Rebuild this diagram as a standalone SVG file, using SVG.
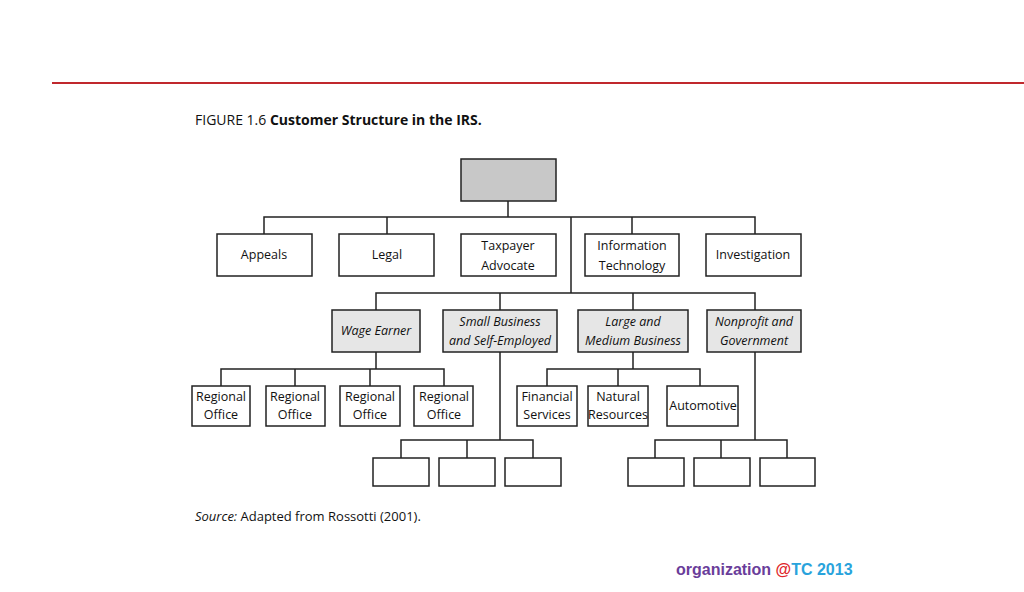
<svg xmlns="http://www.w3.org/2000/svg" width="1024" height="592" viewBox="0 0 1024 592">
<style>
.b{fill:#fff;stroke:#222;stroke-width:1.5}
.g{fill:#e6e6e6;stroke:#222;stroke-width:1.5}
.t{font-family:"Open Sans","Liberation Sans",sans-serif;font-size:12.5px;fill:#111;text-anchor:middle}
.i{font-style:italic}
#conn path{fill:none;stroke:#222;stroke-width:1.5}
</style>
<rect width="1024" height="592" fill="#fff"/>
<line x1="52" y1="83" x2="1024" y2="83" stroke="#c0282d" stroke-width="2"/>
<text x="195" y="125" font-family="Open Sans,Liberation Sans,sans-serif" font-size="14" fill="#111">FIGURE 1.6 <tspan font-weight="bold">Customer Structure in the IRS.</tspan></text>
<g id="conn">
<path d="M508 201V217M264 234V217H755V234M387 217V234M632 217V234M571 217V293M376 310V293H755V310M500 293V310M633 293V310"/>
<path d="M376 352V369M221 386V369H444V386M295 369V386M370 369V386"/>
<path d="M500 352V440M401 458V440H533V458M467 440V458"/>
<path d="M633 352V369M547 386V369H700V386M618 369V386"/>
<path d="M755 352V440M655 458V440H787V458M721 440V458"/>
</g>
<g id="top"><rect class="g" x="461" y="159" width="95" height="42" fill="#c8c8c8" style="fill:#c8c8c8"/></g>
<g id="appeals"><rect class="b" x="217" y="234" width="95" height="42"/><text class="t" x="264" y="259">Appeals</text></g>
<g id="legal"><rect class="b" x="339" y="234" width="95" height="42"/><text class="t" x="387" y="259">Legal</text></g>
<g id="taxpayer"><rect class="b" x="461" y="234" width="95" height="42"/><text class="t" x="508" y="250">Taxpayer</text><text class="t" x="508" y="270">Advocate</text></g>
<g id="it"><rect class="b" x="585" y="234" width="94" height="42"/><text class="t" x="632" y="250">Information</text><text class="t" x="632" y="270">Technology</text></g>
<g id="invest"><rect class="b" x="706" y="234" width="95" height="42"/><text class="t" x="753" y="259">Investigation</text></g>
<g id="wage"><rect class="g" x="332" y="310" width="88" height="42"/><text class="t i" x="376" y="335">Wage Earner</text></g>
<g id="small"><rect class="g" x="443" y="310" width="114" height="42"/><text class="t i" x="500" y="326">Small Business</text><text class="t i" x="500" y="345">and Self-Employed</text></g>
<g id="large"><rect class="g" x="578" y="310" width="110" height="42"/><text class="t i" x="633" y="326">Large and</text><text class="t i" x="633" y="345">Medium Business</text></g>
<g id="nonprofit"><rect class="g" x="707" y="310" width="94" height="42"/><text class="t i" x="754" y="326">Nonprofit and</text><text class="t i" x="754" y="345">Government</text></g>
<g id="ro1"><rect class="b" x="192" y="386" width="58" height="40"/><text class="t" x="221" y="401">Regional</text><text class="t" x="221" y="419">Office</text></g>
<g id="ro2"><rect class="b" x="266" y="386" width="59" height="40"/><text class="t" x="295" y="401">Regional</text><text class="t" x="295" y="419">Office</text></g>
<g id="ro3"><rect class="b" x="340" y="386" width="60" height="40"/><text class="t" x="370" y="401">Regional</text><text class="t" x="370" y="419">Office</text></g>
<g id="ro4"><rect class="b" x="414" y="386" width="59" height="40"/><text class="t" x="444" y="401">Regional</text><text class="t" x="444" y="419">Office</text></g>
<g id="fin"><rect class="b" x="517" y="386" width="60" height="40"/><text class="t" x="547" y="401">Financial</text><text class="t" x="547" y="419">Services</text></g>
<g id="nat"><rect class="b" x="588" y="386" width="60" height="40"/><text class="t" x="618" y="401">Natural</text><text class="t" x="618" y="419">Resources</text></g>
<g id="auto"><rect class="b" x="667" y="386" width="71" height="40"/><text class="t" x="703" y="410">Automotive</text></g>
<g id="s1"><rect class="b" x="373" y="458" width="56" height="28"/></g>
<g id="s2"><rect class="b" x="439" y="458" width="56" height="28"/></g>
<g id="s3"><rect class="b" x="505" y="458" width="56" height="28"/></g>
<g id="n1"><rect class="b" x="628" y="458" width="56" height="28"/></g>
<g id="n2"><rect class="b" x="694" y="458" width="56" height="28"/></g>
<g id="n3"><rect class="b" x="760" y="458" width="55" height="28"/></g>
<text x="195" y="521" font-family="Open Sans,Liberation Sans,sans-serif" font-size="13" fill="#111"><tspan font-style="italic">Source:</tspan> Adapted from Rossotti (2001).</text>
<text x="676" y="575" font-family="Liberation Sans,Arial,sans-serif" font-size="16" font-weight="bold"><tspan fill="#6a3d9a">organization </tspan><tspan fill="#e0262b">@</tspan><tspan fill="#29a3dc">TC 2013</tspan></text>
</svg>
